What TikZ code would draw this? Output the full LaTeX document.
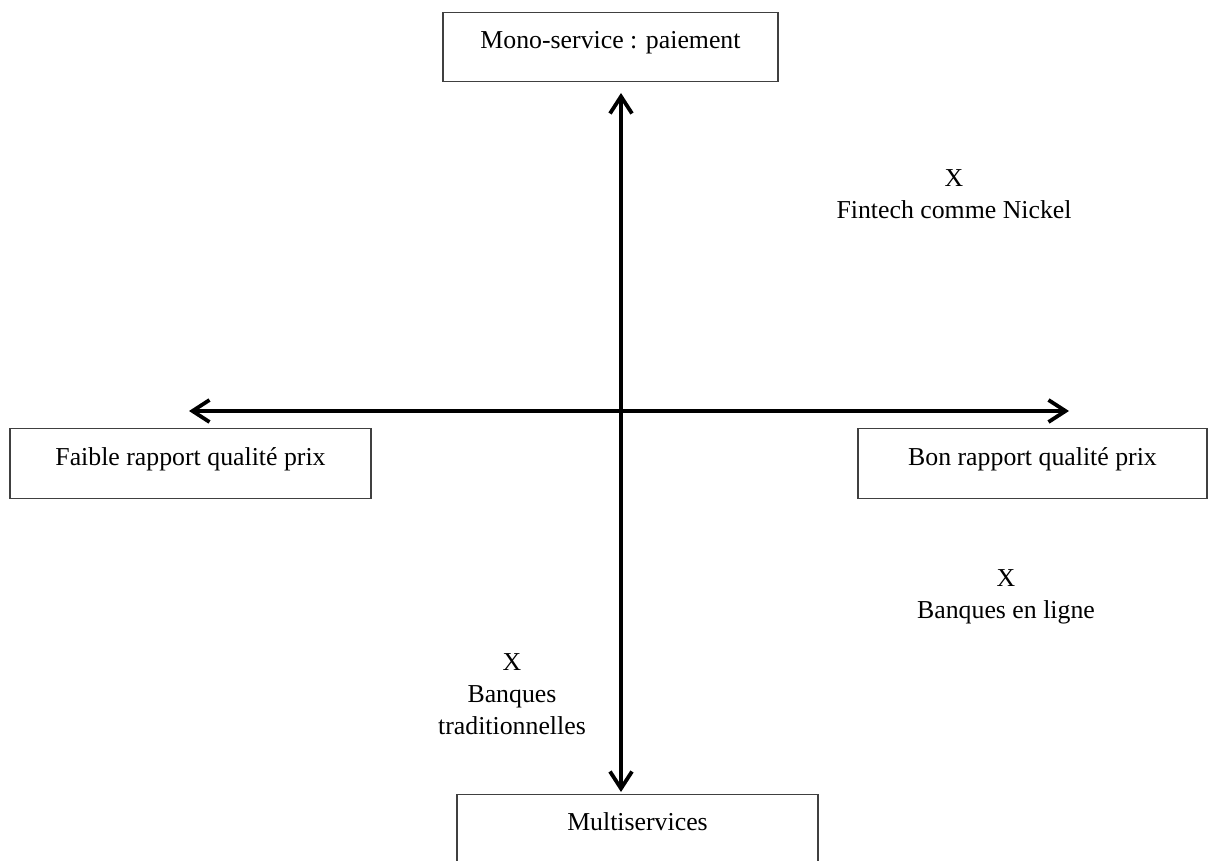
\documentclass[tikz,border=0pt]{standalone}
\usepackage{fontspec}
\setmainfont{Liberation Serif}
\usetikzlibrary{arrows.meta}
\begin{document}
\begin{tikzpicture}[x=1pt,y=-1pt,
  every node/.style={font=\fontsize{25.8}{32}\selectfont, inner sep=0pt},
  box/.style={draw=black!75, line width=1.3pt},
  tip/.style={},
  axis/.style={line width=3.8pt, {Straight Barb[length=17pt,width=22pt,line width=3.8pt]}-{Straight Barb[length=17pt,width=22pt,line width=3.8pt]}},
  lbl/.style={align=center}]
\useasboundingbox (0,0) rectangle (1216,861);
\node[box, anchor=north, minimum width=335pt, text height=36pt, text depth=33pt] (top) at (610.5,12) {Mono-service : paiement};
\node[box, anchor=north, minimum width=361pt, text height=37pt, text depth=33pt] (left) at (190.5,428) {Faible rapport qualité prix};
\node[box, anchor=north, minimum width=349pt, text height=37pt, text depth=33pt] (right) at (1032.5,428) {Bon rapport qualité prix};
\node[box, anchor=north, minimum width=361pt, text height=36pt, text depth=48pt] (bottom) at (637.5,794) {Multiservices};
\coordinate (vt) at (621,93);
\coordinate (vb) at (621,792);
\coordinate (hl) at (189,411);
\coordinate (hr) at (1069,411);
\draw[axis] (vb) -- (vt);
\draw[axis] (hl) -- (hr);
\node[lbl] (fintech) at (954,194) {X\\Fintech comme Nickel};
\node[lbl] (enligne) at (1006,597) {X\\Banques en ligne};
\node[lbl] (trad) at (512,694) {X\\Banques\\traditionnelles};
\end{tikzpicture}
\end{document}
